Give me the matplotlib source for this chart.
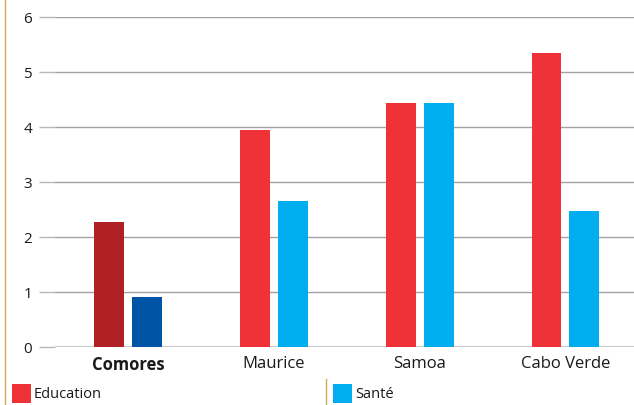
import matplotlib
matplotlib.use("Agg")
import matplotlib.pyplot as plt
from matplotlib.patches import Rectangle
from matplotlib.lines import Line2D
import numpy as np

# Data
categories = ["Comores", "Maurice", "Samoa", "Cabo Verde"]
education = [2.28, 3.95, 4.44, 5.35]
sante = [0.91, 2.66, 4.44, 2.48]
y_ticks = [0, 1, 2, 3, 4, 5, 6]
legend_labels = ["Education", "Santé"]

# Colours: the highlighted country uses darker shades
edu_color = "#ee3237"
sante_color = "#00aeef"
edu_highlight = "#b01f24"
sante_highlight = "#0054a6"
gold = "#c9ac55"

plt.rcParams["font.family"] = ["Open Sans", "DejaVu Sans"]

W, H = 634, 405
fig = plt.figure(figsize=(W / 100, H / 100), dpi=100)
ax = fig.add_axes([55 / W, (H - 347.3) / H, 1 - 55 / W, (347.3 - 17.3) / H])

x = np.arange(len(categories))
width = 0.205
offset = 0.13
edu_colors = [edu_highlight] + [edu_color] * (len(categories) - 1)
sante_colors = [sante_highlight] + [sante_color] * (len(categories) - 1)
ax.bar(x - offset, education, width, color=edu_colors, zorder=3)
ax.bar(x + offset, sante, width, color=sante_colors, zorder=3)

ax.set_xlim(-0.5, 3.47)
ax.set_ylim(0, 6)
ax.set_yticks(y_ticks)
ax.set_xticks(x)
ax.set_xticklabels(categories, fontsize=12, color="#1a1a1a")
ax.get_xticklabels()[0].set_fontweight("bold")

for s in ax.spines.values():
    s.set_visible(False)
ax.yaxis.grid(True, color="#a3a3a3", linewidth=1.0, zorder=1)
ax.set_axisbelow(True)
ax.axhline(0, color="#cccccc", linewidth=1.6, zorder=2)
ax.tick_params(axis="y", length=11.5, width=1.0, color="#b8b8b8", pad=5,
               labelsize=11, labelcolor="#1a1a1a")
ax.tick_params(axis="x", length=0, pad=6.5)

# Decorative gold rules
fig.add_artist(Line2D([4.5 / W, 4.5 / W], [0, 1], color=gold, linewidth=1.0))
fig.add_artist(Line2D([326 / W, 326 / W], [0, (H - 379) / H], color=gold, linewidth=1.0))

# Legend
for (lx, label, c) in [(12, legend_labels[0], edu_color), (333, legend_labels[1], sante_color)]:
    fig.add_artist(Rectangle((lx / W, (H - 403) / H), 19 / W, 19 / H,
                             facecolor=c, edgecolor="none", transform=fig.transFigure))
    fig.text((lx + 22) / W, (H - 394) / H, label, fontsize=10.5, color="#1a1a1a",
             va="center", ha="left")

fig.savefig("out.png", dpi=100)
